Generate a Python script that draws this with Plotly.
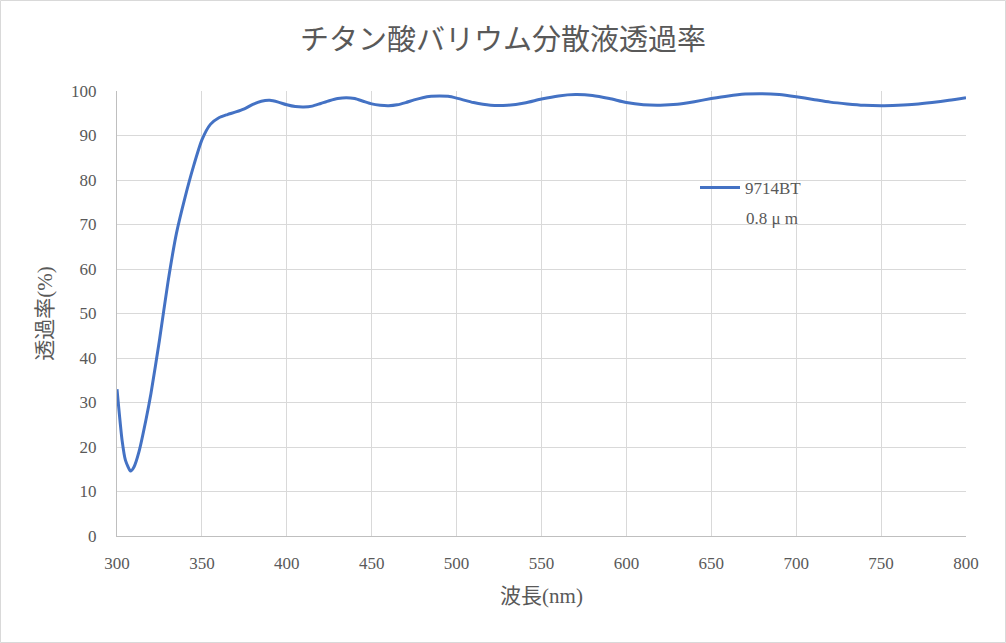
import plotly.graph_objects as go

wavelength = [300, 303, 305, 308, 310, 313, 317, 320, 325, 330, 335, 340, 345, 350, 355, 360, 365, 370, 375, 380,
              385, 390, 395, 400, 405, 410, 415, 420, 425, 430, 435, 440, 445, 450, 455, 460, 465, 470, 475, 480,
              485, 490, 495, 500, 510, 520, 530, 540, 550, 560, 570, 580, 590, 600, 610, 620, 630, 640, 650, 660,
              670, 680, 690, 700, 710, 720, 730, 740, 750, 760, 770, 780, 790, 800]
transmittance = [33.0, 21.5, 17.0, 14.6, 15.5, 19.0, 26.0, 32.0, 44.0, 57.0, 68.0, 76.0, 83.0, 89.0, 92.5, 94.0, 94.7, 95.3, 96.0, 97.0,
                 97.7, 97.9, 97.5, 96.9, 96.5, 96.4, 96.6, 97.2, 97.8, 98.3, 98.5, 98.3, 97.7, 97.1, 96.8, 96.7, 96.9, 97.4, 98.0, 98.5,
                 98.8, 98.9, 98.8, 98.4, 97.4, 96.8, 96.8, 97.3, 98.2, 98.9, 99.2, 99.0, 98.3, 97.4, 96.9, 96.8, 97.0, 97.6, 98.3, 98.9,
                 99.3, 99.4, 99.2, 98.7, 98.1, 97.5, 97.1, 96.8, 96.7, 96.8, 97.0, 97.4, 97.9, 98.5]
series_name = "9714BT"
series_note = "0.8 μ m"
x_ticks = [300, 350, 400, 450, 500, 550, 600, 650, 700, 750, 800]
y_ticks = [0, 10, 20, 30, 40, 50, 60, 70, 80, 90, 100]

FONT = "Liberation Serif, Noto Sans CJK JP, serif"
GRAY = "#595959"

W, H = 1006, 643
ml, mr, mt, mb = 117, 40, 91, 107
pw, ph = W - ml - mr, H - mt - mb

fig = go.Figure()
fig.add_trace(go.Scatter(
    x=wavelength, y=transmittance, mode="lines", name=series_name,
    line=dict(color="#4472C4", width=3, shape="spline", smoothing=0.6),
    showlegend=True,
))

fig.update_layout(
    width=W, height=H,
    margin=dict(l=ml, r=mr, t=mt, b=mb),
    paper_bgcolor="white", plot_bgcolor="white",
    font=dict(family=FONT, color=GRAY, size=17),
    title=dict(text="チタン酸バリウム分散液透過率", x=0.5, xanchor="center", y=1 - 40 / H, yanchor="middle",
               font=dict(family=FONT, size=29, color=GRAY)),
    xaxis=dict(range=[300, 800], tickvals=x_ticks, showgrid=True, gridcolor="#d9d9d9", gridwidth=1.3,
               showline=True, linecolor="#bfbfbf", linewidth=1.3, zeroline=False,
               ticks="", ticklabelstandoff=11, tickfont=dict(size=17, family=FONT, color=GRAY),
               title=dict(text="波長(nm)", font=dict(size=21, family=FONT, color=GRAY), standoff=16)),
    yaxis=dict(range=[0, 100], tickvals=y_ticks, showgrid=True, gridcolor="#d9d9d9", gridwidth=1.3,
               showline=True, linecolor="#bfbfbf", linewidth=1.3, zeroline=False,
               ticks="", ticklabelstandoff=16, tickfont=dict(size=17, family=FONT, color=GRAY),
               title=dict(text="透過率(%)", font=dict(size=21, family=FONT, color=GRAY), standoff=12)),
    legend=dict(x=(695 - ml) / pw, y=1 - (170 - mt) / ph, xanchor="left", yanchor="top",
                bgcolor="rgba(0,0,0,0)", valign="top", itemwidth=40,
                font=dict(size=17, family=FONT, color=GRAY)),
    annotations=[dict(text=series_note, xref="paper", yref="paper",
                      x=(744 - ml) / pw, y=1 - (218 - mt) / ph, xanchor="left", yanchor="middle",
                      showarrow=False, font=dict(size=17, family=FONT, color=GRAY))],
    shapes=[dict(type="rect", xref="paper", yref="paper",
                 x0=-(ml - 0.5) / pw, x1=1 + (mr - 0.5) / pw,
                 y0=-(mb - 0.5) / ph, y1=1 + (mt - 0.5) / ph,
                 line=dict(color="#d9d9d9", width=1), layer="below")],
)

fig.write_html("out.html")
